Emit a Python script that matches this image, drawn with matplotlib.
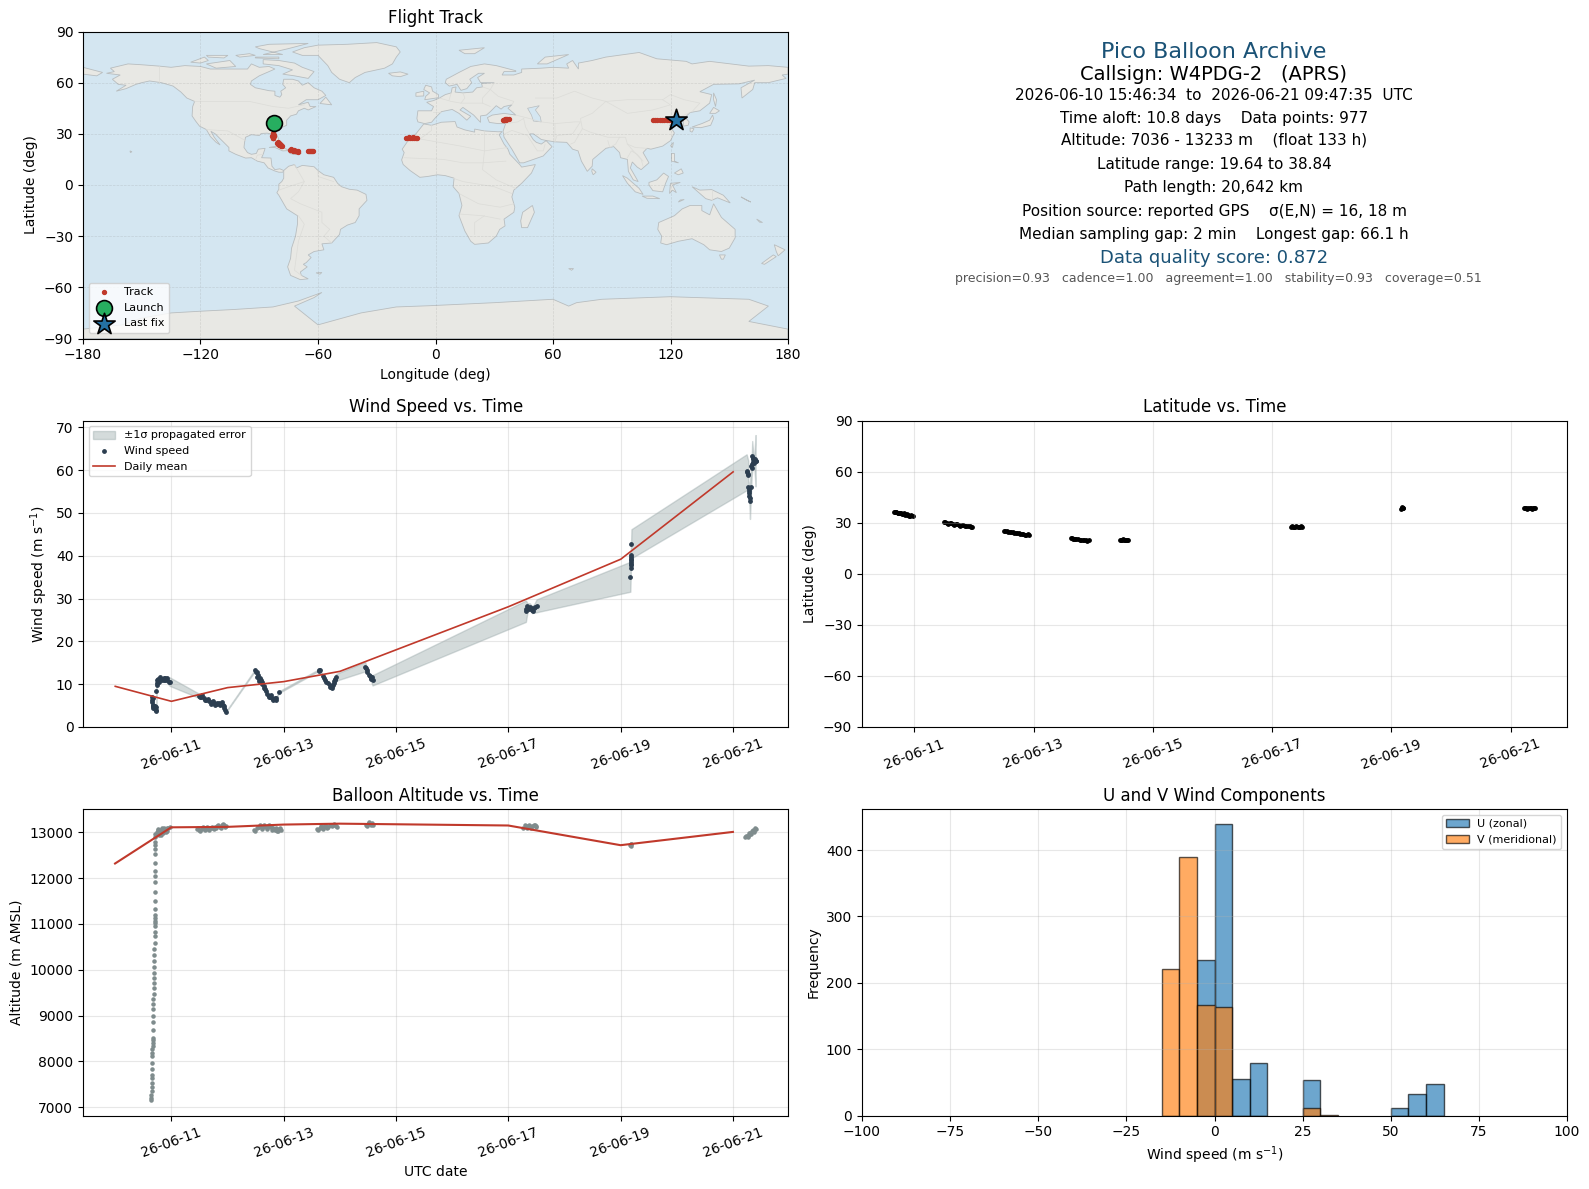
"""Pico Balloon Archive dashboard: track map, wind, latitude, altitude, U/V histogram."""
import numpy as np
import pandas as pd
import matplotlib
matplotlib.use("Agg")
import matplotlib.pyplot as plt
import matplotlib.dates as mdates
from matplotlib.patches import Polygon

W, H = 1589, 1189
BASE = pd.Timestamp("2026-06-10")

# ── coastlines (lon, lat) ──
north_america = [(-168,65.5),(-164,66.5),(-166,68.5),(-157,71),(-150,70.5),(-141,69.7),(-135,69),(-128,70),(-120,69.5),(-115,68),(-108,68),(-100,68),(-96,68),(-94,71),(-90,69),(-85,69.5),(-82,68),(-86,66),(-90,64),(-94,61),(-94.5,59),(-92,57),(-85,55.3),(-82,55),(-82,52.5),(-79.5,51.5),(-78.5,53),(-79,55),(-76.5,57),(-78,59),(-77.5,62),(-73,62),(-70,61),(-68,58.5),(-65,60),(-62,57),(-58,55),(-56,52.5),(-60,50),(-66,50),(-70,47),(-65,48.5),(-64,46),(-61,46),(-65,44),(-67,45),(-70,43.5),(-71,41.5),(-74,40.5),(-76,38),(-76,35),(-78,34),(-81,32),(-81.5,30),(-80,27),(-80.5,25.2),(-81.8,26),(-82.8,28),(-84,30),(-86,30.4),(-89,30.2),(-90,29),(-94,29.5),(-97,28),(-97.5,25),(-97.8,22),(-96,19),(-94,18),(-91.5,18.5),(-90.5,21),(-87,21.5),(-88,18),(-88.8,16),(-84,15.8),(-83.5,11),(-82,9),(-79.5,9.5),(-77.5,8.5),(-78,7.5),(-80,7.5),(-82,8.2),(-85.5,10),(-87.5,13),(-91,14),(-94,16),(-97,15.8),(-102,18),(-105.5,20),(-105.5,22),(-109,26),(-112.5,30),(-114.7,31.5),(-113,28),(-110,23.5),(-112,25),(-115,28.5),(-117,32.5),(-120.5,34.5),(-122.5,37.5),(-124.3,40.5),(-124,46),(-123,49),(-127,51),(-130,54.5),(-134,58),(-140,60),(-146,61),(-150,60),(-153,59),(-158,56.5),(-163,55),(-158,58.5),(-162,59),(-165,62),(-161,64.5)]
greenland = [(-73,78),(-68,76),(-60,76),(-55,70),(-53,66),(-49,62),(-44,60),(-41,63),(-36,66),(-26,68.5),(-22,71),(-20,75),(-18,78),(-20,81),(-30,83.5),(-45,82.5),(-60,82),(-67,80.5)]
south_america = [(-77.5,8.5),(-75,11),(-72,12),(-71,10),(-68,11.5),(-62,10.7),(-60,8.5),(-57,6),(-52,4.5),(-50,1),(-48,-1),(-44,-2.5),(-40,-3),(-35.5,-5.5),(-35,-9),(-39,-14),(-39,-18),(-41,-22),(-45,-23.5),(-48.5,-26),(-49,-29),(-53,-34),(-58,-34.5),(-57,-38),(-62,-39),(-65,-41),(-63.5,-42.5),(-66,-45.5),(-67.5,-46.5),(-65.5,-48),(-69,-51),(-68.5,-53),(-65,-55),(-69,-55.5),(-74,-53),(-75.5,-48),(-74,-43),(-73.5,-37),(-71.5,-30),(-70.5,-23),(-70.5,-18),(-76,-14),(-80,-6),(-81,-4.5),(-80,-2.5),(-80,0.5),(-78.5,2),(-77.5,4),(-77.5,7)]
africa = [(-6,35.8),(-2,35),(3,36.8),(10,37.2),(11,34),(15,32.3),(20,31),(20,32.8),(25,31.7),(32,31.2),(34,31.3),(32.5,29.5),(35,24),(37,21),(38,18),(43,12),(44,10.5),(51,12),(49,7),(44,1),(40,-3),(39,-7),(40.5,-13),(40,-16),(35,-20),(35.5,-24),(32.8,-26),(31,-30),(27,-34),(20,-34.8),(18,-33),(15,-27),(12,-18),(13.5,-12),(12,-5),(9,-1),(9.5,4),(5,5.5),(1,6),(-4,5),(-8,4.5),(-13,8.5),(-16.5,12),(-17.3,14.7),(-16,19),(-17,21),(-13,27.7),(-10,30)]
eurasia = [(-9,37),(-9.5,39),(-9,43.5),(-2,43.5),(-1,46),(-4.5,48.5),(-1,49.5),(2,51),(5,53),(8,54),(8.5,57),(10.5,57.5),(10,54.5),(14,54),(19,54.5),(21,57),(24,57.5),(23.5,59.5),(30,60),(23,60),(21.5,63),(25,65.5),(22,65.5),(17.5,62),(18.5,60),(16,56.5),(13,55.5),(11,59),(7,58),(5,60),(5.5,62),(12,66),(18,69.5),(25,71),(31,70),(41,67),(41,66.5),(35,66.5),(34,64.5),(40,64.5),(44,66),(44,68),(54,68.5),(60,69),(68,68.5),(67,71),(70,73),(73,68),(73,71.5),(80,73),(87,75),(104,77.7),(113,74),(128,72.5),(131,71),(140,72.5),(160,69.7),(170,70),(180,69),(180,65),(177,64.5),(179,62.5),(170,60),(163,60),(162,56),(156.5,51),(156,57),(163,61.5),(155,59.3),(142,59),(135,54.7),(141,53),(140,48),(135,43.5),(130,42.5),(127.5,39.7),(129.5,37),(129,35),(126.5,34.5),(126.5,37.5),(125,39.5),(121.5,39),(122,40.5),(118,39),(120,37.5),(122.5,37),(119.5,35),(122,30.5),(120,26),(116,22.8),(110,21),(108,21.5),(106,19),(109,13),(105,9),(103,10.5),(100.5,13.5),(99.5,10),(103.5,2),(101,3),(98.5,8),(98,15),(94.5,16),(94,19),(91,22.5),(87,21.5),(80.3,15),(80,11),(77.5,8),(74.5,14),(72.8,20),(70,21),(67,25),(61,25.3),(57,26),(54,26.7),(50,30),(48,30),(50,26.5),(51.5,25),(54,24),(56.5,26),(59.5,22.5),(55,17),(45,13),(43,13),(39,21),(35,28),(34.5,31.5),(35.8,36),(32,36),(27.5,36.7),(26.5,39.5),(29,41),(35,42),(41,41),(37,45),(39,47),(35,46),(33.5,44.5),(31,46.5),(28,43),(26,41),(23,40.5),(23,36.7),(19.5,41),(14,45.5),(12.5,44),(18,40.3),(16,38),(12,42),(8.5,44.3),(3,43),(0,39.5),(-2,36.8),(-5.5,36)]
australia = [(114,-22),(122,-18),(126,-14),(130,-12),(136,-12),(136,-15),(140,-17.5),(142,-11),(146,-19),(153,-26),(153,-31),(150,-37),(146,-39),(140,-38),(137,-35),(131,-31.5),(124,-33),(118,-35),(115,-34),(115.5,-30),(113.5,-26)]
antarctica = [(-180,-90),(-180,-84.5),(-160,-82),(-150,-78),(-135,-75),(-120,-74),(-103,-73),(-83,-71.5),(-70,-68),(-58,-63),(-62,-66),(-72,-71),(-60,-82),(-38,-75),(-20,-71.5),(-3.5,-70.8),(30,-69),(60,-67),(68,-71),(72,-69),(85,-67),(120,-65.5),(160,-67),(170,-71),(160,-80),(180,-84.5),(180,-90)]
islands = [
    [(-80,73),(-72,71.5),(-68,69),(-62,66.5),(-65,62.5),(-72,64),(-78,65),(-73,67.5),(-80,70),(-88,71),(-88,73.5)],
    [(-117,71),(-105,73),(-102,69.5),(-112,68.5)],
    [(-90,80),(-78,76.5),(-88,76.5),(-75,80),(-65,83),(-85,82.5),(-92,81)],
    [(-125,72),(-118,75),(-116,73),(-120,71.5)],
    [(-92,75),(-80,75),(-80,74),(-92,74.5)],
    [(-117,76),(-106,76),(-108,74.5),(-116,75)],
    [(-102,76),(-95,77),(-92,76),(-100,75)],
    [(-59,47.8),(-56,51.5),(-53,47)],
    [(-85,22),(-80,23),(-74.5,20.2),(-78,20),(-82,22)],
    [(-74.5,18.5),(-72,20),(-68.5,18.5),(-71.5,17.8)],
    [(-156,20),(-155,19.5),(-155.8,19)],
    [(-61,-51.5),(-58,-51.3),(-59,-52.3)],
    [(49.5,-12),(50.5,-16),(47,-25),(44,-25),(43.5,-21),(44.5,-16)],
    [(-5.5,50),(1.5,51.2),(1.5,53),(-1.5,55),(-2,57.5),(-5,58.5),(-6,56),(-3,54),(-5,52)],
    [(-10,52),(-6,52.2),(-6,55),(-10,54)],
    [(-24,65.5),(-18,66.3),(-14,65),(-18,63.5),(-22,64)],
    [(12,79),(25,80.5),(20,77),(15,77)],
    [(52,71),(57,71),(68,76.5),(56,75)],
    [(142,54),(143.5,50),(143,46),(142,50)],
    [(131,34),(136,36),(140,38),(141.5,41),(142,39),(140.5,35),(135.5,33.6)],
    [(140,42),(142,45.5),(145,43.5),(143,42)],
    [(130,33.5),(132,33),(131,31),(130,31.5)],
    [(120,23),(121.5,25),(121,22)],
    [(120.5,18.5),(122,18.5),(122,14),(124,13),(120.5,14)],
    [(122,7),(125.5,9.5),(126.5,7),(124,6)],
    [(109,1.5),(113,3),(116.5,7),(119,5),(117.5,1),(116,-4),(111,-3.3),(109,0)],
    [(95.5,5.5),(98,4),(104,-2),(106,-5.5),(102,-4),(98,1)],
    [(105.5,-6.5),(111,-6.5),(114.5,-8),(108,-7.8)],
    [(119.5,-5),(120,1),(125,1.5),(121,0),(123,-4.5),(121,-3)],
    [(131,-1),(135,-3),(141,-2.7),(147,-6),(150.5,-10.5),(144,-7.5),(141,-9),(138,-8),(134,-4)],
    [(80,9.5),(82,7.5),(80.5,6),(79.8,8)],
    [(124,-10),(127,-8.5),(125,-8.8)],
    [(145,-41),(148,-41),(147,-43.5),(146,-43.5)],
    [(173,-35),(178.5,-38),(175,-41.5),(174,-39)],
    [(172.5,-41),(174,-42),(168,-46.5),(166.5,-46)],
    [(164,-20),(167,-22),(165.5,-21.8)],
    [(156,-7),(161,-10),(159,-9)],
    [(-180,65),(-173,64),(-170,66),(-180,69)],
    [(68,-49),(70.5,-49),(69.5,-50)],
]
caspian = [(47,45),(53,46.5),(51,44),(53.5,40),(54,37),(50,37.5),(49,41)]
borders = [
    [(-123,49),(-95,49),(-83,46),(-75,45),(-67,47)],
    [(-141,69.7),(-141,60)],
    [(-117,32.5),(-106,31.7),(-97,26)],
    [(-92,14.5),(-91,17.5),(-88,18)],
    [(-72,12),(-67,2),(-70,-4),(-74,-8),(-69,-11),(-58,-16),(-58,-22),(-54,-26),(-57,-30),(-53,-34)],
    [(-60,8.5),(-60,5),(-52,2)],
    [(-80,-3),(-75,-1),(-67,2)],
    [(-70,-18),(-67,-23),(-70,-33),(-72,-50),(-68.5,-53)],
    [(-13,27.7),(-8,27),(12,23),(25,20),(37,22)],
    [(25,31.7),(25,20),(24,9),(31,3),(41,-2)],
    [(-2,35),(-2,32),(-8,27)],
    [(-16,16),(4,15),(14,13),(24,13),(36,14)],
    [(9,4),(14,2),(30,-1),(39,-5)],
    [(12,-5),(22,-11),(33,-13),(40,-11)],
    [(12,-17),(24,-18),(33,-20)],
    [(20,-29),(20,-22),(25,-18)],
    [(-1.5,43),(3,43)],
    [(2,51),(8,49),(13,48),(17,48),(24,48),(28,46)],
    [(8,54),(7,50)],
    [(14,54),(15,51),(13,48)],
    [(24,57.5),(28,56),(24,51),(24,48)],
    [(30,60),(28,56),(32,52),(40,49),(39,47)],
    [(41,41),(48,39),(54,37),(61,36),(61,25.3)],
    [(36,36),(42,37),(45,39)],
    [(48,30),(46,34),(45,39)],
    [(34.5,29.5),(39,32),(47,29),(52,20),(55,20),(56,24)],
    [(51,51),(62,51),(71,55),(80,51),(87,49)],
    [(87,49),(98,50),(107,50),(116,50),(120,53),(127,50),(135,48),(131,43)],
    [(87,49),(80,42),(74,39),(75,33),(79,31),(88,28),(97,28),(98,24),(102,22),(108,21.5)],
    [(61,36),(71,37),(74,37),(70,30),(62,29),(61,25.3)],
    [(75,33),(71,25),(69,24)],
    [(88,26),(89,22),(92,24),(94,28)],
    [(98,24),(101,20),(105,15),(106,11)],
    [(98,16),(100,20),(103,18),(106,14)],
    [(87,49),(98,42),(111,44),(120,47),(116,50)],
    [(125,40),(130,42.5)],
    [(141,-2.7),(141,-9)],
]

# ── track for the map (lon, lat) ──
track_lon = [-82.9,-83.2,-82.6,-83,-83.3,-82.7,-83.1,-83.2,-82.8,-83,-80.6,-81,-80.3,-79.9,-80.4,-79.5,-79.9,-79.1,-78.7,-79.2,-78.4,-74,-74.2,-73.2,-72.5,-72.8,-71.8,-71,-71.4,-70.4,-70.2,-65,-64.5,-63.8,-64.2,-63.1,-62.6,-15,-14,-13.5,-13,-12,-11.5,-11,-10,-9.5,34.3,34.8,35,35.4,35.8,36.2,36.6,37.3,111,112,113.2,114.4,115.6,116.8,118,119.2,120.4,121.5]
track_lat = [30.2,29.9,29.6,29.1,28.9,28.6,28.1,27.5,27.7,27.3,25.2,24.9,24.8,24.4,24.2,24,23.7,23.6,23.1,23.2,22.7,21,20.5,20.7,20.3,19.9,20,19.8,20.2,19.64,20.0,20.1,20,19.9,19.7,19.9,19.8,27.5,27.6,27.9,27.7,27.6,27.9,27.6,27.7,27.8,38.2,37.9,38.4,38.9,38.6,38.2,38.8,38.84,38.4,38.4,38.4,38.4,38.4,38.4,38.4,38.4,38.4,38.4]
launch_lon, launch_lat = -82.7, 36.4
last_lon, last_lat = 122.7, 38.4

# ── wind speed: days since 06-10 00:00, m/s, propagated sigma ──
wind_days = [0.66,0.66,0.66,0.67,0.67,0.68,0.70,0.72,0.73,0.73,0.735,0.74,0.76,0.78,0.80,0.83,0.86,0.88,0.90,0.93,0.97,
             1.49,1.53,1.58,1.62,1.67,1.72,1.76,1.81,1.85,1.91,1.94,1.97,
             2.49,2.52,2.54,2.565,2.59,2.61,2.655,2.685,2.73,2.76,2.79,2.82,2.86,2.91,
             3.625,3.64,3.70,3.73,3.76,3.815,3.857,3.89,3.91,3.93,
             4.45,4.48,4.52,4.55,4.58,
             7.31,7.34,7.38,7.42,7.46,7.50,
             9.17,9.18,9.18,9.18,9.18,9.19,
             11.24,11.27,11.27,11.28,11.29,11.30,11.33,11.34,11.36,11.38,11.40]
wind_speed = [7.1,6.4,5.8,5.2,4.8,4.5,4.3,4.0,3.7,8.5,9.7,10.2,10.6,11.0,11.2,11.3,11.5,11.4,11.1,10.9,10.6,
              7.3,7.1,6.75,6.4,6.1,5.8,5.6,5.7,5.6,5.2,4.4,3.5,
              13.3,12.8,12.2,11.2,10.9,10.6,9.5,8.3,7.3,7.0,6.7,6.5,6.4,8.1,
              13.3,13.4,11.8,11.0,10.6,9.8,9.1,10.2,11.0,11.6,
              14.1,13.3,12.2,11.4,10.9,
              27.05,27.9,28.1,27.4,27.7,28.3,
              35.1,37.75,38.5,39.3,40.1,42.8,
              59.5,59.2,56.1,55.2,54.0,52.9,60.5,63.3,62.6,62.0,62.2]
wind_sigma = [0.1,0.1,0.1,0.1,0.1,0.1,0.1,0.1,0.1,0.2,0.2,0.2,0.2,0.2,0.2,0.2,0.2,0.2,0.3,0.6,1.0,
              0.5,0.2,0.2,0.2,0.2,0.2,0.2,0.2,0.2,0.2,0.1,0.1,
              0.2,0.2,0.2,0.2,0.2,0.2,0.2,0.2,0.2,0.2,0.2,0.2,0.2,0.2,
              0.2,0.2,0.2,0.2,0.2,0.2,0.3,0.3,0.5,0.8,
              1.1,0.4,0.4,0.5,1.2,
              2.5,1.0,0.8,0.8,1.0,1.5,
              3.5,1.0,1.0,1.0,1.0,3.4,
              4.2,3.0,1.5,1.5,2.0,4.3,2.0,3.5,1.0,2.0,6.0]
# remaining wind points, they only thicken the clusters (no band of their own)
wind_more_days = [0.665,0.675,0.685,0.70,0.72,0.74,0.76,0.78,0.80,0.83,0.86,0.88,0.92,0.95,
                  1.50,1.55,1.60,1.65,1.70,1.74,1.78,1.82,1.86,1.90,1.93,1.96,
                  2.50,2.53,2.56,2.58,2.62,2.64,2.67,2.70,2.74,2.77,2.80,2.84,2.87,
                  3.63,3.72,3.78,3.82,3.84,3.86,3.88,3.90,3.92,
                  4.46,4.49,4.53,4.56,4.57,
                  7.32,7.33,7.36,7.40,7.44,7.48,
                  9.18,9.18,9.18,9.175,
                  11.25,11.26,11.28,11.29,11.30,11.31,11.32,11.34,11.345,11.36,11.37,11.39,11.41]
wind_more_speed = [6.8,5.0,4.9,4.8,4.6,11.0,11.1,10.5,11.7,10.9,11.0,11.0,11.4,10.5,
                   6.9,7.4,6.3,6.6,5.4,6.0,5.2,5.3,5.1,5.8,4.9,3.9,
                   12.9,11.7,10.7,11.5,10.0,9.0,8.8,7.8,6.9,7.4,6.3,6.8,6.7,
                   13.0,11.4,10.2,9.4,9.3,9.6,9.8,10.7,11.2,
                   13.7,12.8,11.8,11.1,11.6,
                   27.5,28.2,27.6,27.7,27.2,28.0,
                   38.0,38.9,39.7,37.2,
                   59.8,58.9,55.7,54.6,53.4,56.0,60.9,61.5,62.8,62.0,61.7,62.5,62.1]

# daily means are shared by the wind and altitude panels
mean_days = [0, 1, 2, 3, 4, 7, 9, 11]
wind_mean = [9.5, 6.0, 9.2, 10.6, 13.0, 28.1, 39.2, 59.6]
alt_mean = [12320, 13110, 13120, 13170, 13190, 13150, 12720, 13010]

# ── latitude ──
lat_days = [0.66,0.69,0.72,0.75,0.78,0.81,0.84,0.87,0.90,0.93,0.97,
            1.50,1.55,1.60,1.65,1.70,1.75,1.80,1.85,1.90,1.97,
            2.50,2.55,2.60,2.65,2.70,2.75,2.80,2.85,2.93,
            3.62,3.68,3.72,3.78,3.83,3.88,3.93,
            4.45,4.48,4.51,4.55,4.58,
            7.31,7.35,7.39,7.43,7.47,7.50,
            9.17,9.19,
            11.22,11.26,11.30,11.34,11.38,11.41,
            0.67,0.70,0.73,0.76,0.79,0.82,0.85,0.88,0.91,0.94,
            1.52,1.57,1.62,1.67,1.72,1.77,1.82,1.87,1.93,1.95,
            2.52,2.57,2.62,2.67,2.72,2.77,2.82,2.87,2.90,
            3.64,3.66,3.70,3.75,3.80,3.85,3.90,
            4.46,4.50,4.53,4.57,
            7.33,7.37,7.41,7.45,7.49,
            9.18,9.20,9.18,
            11.24,11.28,11.32,11.36,11.40]
lat_deg = [36.3,36.1,35.9,35.6,35.4,35.2,34.9,34.6,34.4,34.1,33.8,
           30.2,29.9,29.6,29.3,29.0,28.7,28.4,28.1,27.8,27.5,
           25.2,24.9,24.6,24.3,24.0,23.7,23.4,23.0,22.7,
           21.0,20.7,20.4,20.1,19.9,19.7,19.64,
           20.1,20.0,19.9,19.9,19.8,
           27.5,27.6,27.7,27.6,27.6,27.7,
           38.2,38.84,
           38.4,38.4,38.4,38.4,38.4,38.4,
           36.0,36.4,35.5,35.8,35.0,35.5,34.5,34.9,34.0,34.4,
           30.3,29.5,29.7,28.9,29.1,28.3,28.5,27.8,28.0,27.4,
           25.3,24.5,24.7,23.9,24.1,23.3,23.5,22.8,23.2,
           21.1,20.7,20.2,20.5,19.8,19.9,19.5,
           19.8,20.2,19.7,20.0,
           27.8,27.4,27.8,27.4,27.9,
           38.5,38.6,39.0,
           38.7,38.1,38.7,38.1,38.6]

# ── altitude ──
alt_days = [0.643,0.645,0.648,0.65,0.652,0.655,0.657,0.658,0.66,0.66,0.662,0.664,0.665,0.667,0.668,0.67,0.672,0.673,0.675,0.677,0.68,0.682,0.684,0.686,0.688,0.69,0.692,0.694,0.696,0.698,0.70,0.702,0.703,0.704,0.705,0.706,0.707,0.708,0.709,0.71,0.712,0.714,0.715,0.716,0.717,0.718,0.719,0.72,0.72,0.72,0.72,0.72,
            0.72,0.74,0.76,0.78,0.80,0.82,0.84,0.86,0.88,0.90,0.92,0.94,0.97,
            1.46,1.50,1.54,1.58,1.62,1.66,1.70,1.74,1.78,1.82,1.86,1.90,1.94,1.97,
            2.48,2.52,2.56,2.60,2.64,2.68,2.72,2.76,2.80,2.84,2.88,2.92,2.95,
            3.60,3.64,3.68,3.72,3.76,3.80,3.84,3.88,3.92,3.95,
            4.47,4.50,4.53,4.56,4.59,
            7.27,7.31,7.35,7.39,7.43,7.47,7.50,
            9.17,9.19,
            11.22,11.25,11.28,11.31,11.34,11.37,11.41,
            0.74,0.76,0.78,0.80,0.82,0.84,0.86,0.88,0.90,0.93,
            1.48,1.52,1.56,1.60,1.64,1.68,1.72,1.76,1.80,1.84,1.88,1.92,1.96,
            2.50,2.54,2.58,2.62,2.66,2.70,2.74,2.78,2.82,2.86,2.90,2.94,
            3.62,3.66,3.70,3.74,3.78,3.82,3.86,3.90,3.94,
            4.48,4.52,4.55,4.58,
            7.29,7.33,7.37,7.41,7.45,7.49,
            9.18,9.18,
            11.23,11.26,11.29,11.32,11.35,11.38,11.40]
altitude = [7155,7200,7273,7346,7440,7528,7637,7709,7833,7964,8109,8182,8269,8342,8400,8458,8509,8683,8857,8996,9141,9250,9366,9475,9599,9708,9817,9941,10057,10188,10318,10456,10580,10733,10834,10965,11031,11074,11125,11198,11321,11496,11692,11910,12048,12164,12324,12528,12629,12724,12797,12905,
            12960,13010,13050,13020,13000,13010,13030,13050,13060,13080,13090,13095,13110,
            13070,13060,13080,13090,13075,13090,13100,13095,13120,13130,13120,13170,13160,13130,
            13060,13090,13120,13140,13110,13120,13140,13110,13060,13050,13040,13070,13060,
            13070,13100,13110,13120,13130,13120,13150,13170,13160,13110,
            13160,13190,13200,13190,13170,
            13100,13130,13140,13110,13130,13150,13140,
            12720,12750,
            12900,12930,12950,12990,13020,13040,13080,
            12960,13080,12950,13060,12940,13090,12990,13100,13000,13040,
            13100,13040,13110,13050,13110,13060,13120,13070,13100,13150,13090,13190,13110,
            13040,13110,13150,13070,13150,13080,13160,13140,13100,13100,13030,13090,
            13060,13130,13080,13150,13100,13170,13130,13190,13140,
            13140,13220,13160,13210,
            13160,13100,13170,13100,13170,13110,
            12740,12700,
            12930,12900,12990,12970,13060,13010,13090]

# ── histogram counts on 5 m/s bins, left edge of each bar ──
hist_edges = [-15, -10, -5, 0, 5, 10, 25, 30, 50, 55, 60]
u_counts = [0, 0, 235, 440, 55, 79, 53, 0, 12, 33, 47]
v_counts = [221, 390, 166, 163, 0, 0, 12, 1, 0, 0, 0]

# ── summary text ──
summary_lines = [
    "Pico Balloon Archive",
    "Callsign: W4PDG-2   (APRS)",
    "2026-06-10 15:46:34  to  2026-06-21 09:47:35  UTC",
    "Time aloft: 10.8 days    Data points: 977",
    "Altitude: 7036 - 13233 m    (float 133 h)",
    "Latitude range: 19.64 to 38.84",
    "Path length: 20,642 km",
    "Position source: reported GPS    σ(E,N) = 16, 18 m",
    "Median sampling gap: 2 min    Longest gap: 66.1 h",
    "Data quality score: 0.872",
    "precision=0.93   cadence=1.00   agreement=1.00   stability=0.93   coverage=0.51",
]

OCEAN = "#d4e6f1"
LAND = "#e8e8e4"
COAST = "#b8bdbf"
RED = "#c0392b"


def to_time(days):
    return BASE + pd.to_timedelta(np.asarray(days, dtype=float), unit="D")


def axes_px(x0, x1, y0, y1):
    return fig.add_axes([x0 / W, 1 - y1 / H, (x1 - x0) / W, (y1 - y0) / H])


def date_axis(ax):
    ax.xaxis.set_major_locator(mdates.DayLocator(bymonthday=[11, 13, 15, 17, 19, 21]))
    ax.xaxis.set_major_formatter(mdates.DateFormatter("%y-%m-%d"))
    ax.tick_params(axis="x", labelrotation=20)
    ax.grid(True, alpha=0.3)


fig = plt.figure(figsize=(W / 100, H / 100), dpi=100)

# ── map ──
ax = axes_px(83, 788, 31.5, 338.5)
ax.set_facecolor(OCEAN)
for poly in [north_america, greenland, south_america, africa, eurasia, australia, antarctica] + islands:
    ax.add_patch(Polygon(poly, closed=True, fc=LAND, ec=COAST, lw=0.6, zorder=1))
ax.add_patch(Polygon(caspian, closed=True, fc=OCEAN, ec=COAST, lw=0.5, zorder=1.1))
for line in borders:
    xs, ys = zip(*line)
    ax.plot(xs, ys, color="#dcdcd8", lw=0.5, zorder=1.2)
ax.grid(True, color="#808080", alpha=0.22, lw=0.5, ls="--", zorder=1.5)
ax.scatter(track_lon, track_lat, s=8, color=RED, zorder=3, label="Track")
ax.scatter(launch_lon, launch_lat, s=130, color="#27ae60", edgecolor="black", lw=1.2, zorder=5, label="Launch")
ax.scatter(last_lon, last_lat, s=260, marker="*", color="#2471a3", edgecolor="black", lw=1.2, zorder=5, label="Last fix")
ax.set_xlim(-180, 180)
ax.set_ylim(-90, 90)
ax.set_xticks(np.arange(-180, 181, 60))
ax.set_yticks(np.arange(-90, 91, 30))
ax.set_xlabel("Longitude (deg)")
ax.set_ylabel("Latitude (deg)")
ax.set_title("Flight Track")
ax.legend(loc="lower left", fontsize=8)

# ── summary: one size, colour and pixel row for each line ──
line_sizes = [16, 14, 11, 11, 11, 11, 11, 11, 11, 13, 9]
line_colors = ["#1a5276", "black", "black", "black", "black", "black", "black", "black", "black", "#1a5276", "#555555"]
line_rows = [51.5, 74, 94, 116.5, 138.5, 162, 185, 208.5, 231, 254.5, 275]
line_x = [1214] * 10 + [1218]
for text, size, color, row, x in zip(summary_lines, line_sizes, line_colors, line_rows, line_x):
    fig.text(x / W, 1 - row * 1.0134 / H, text, fontsize=size, color=color, ha="center", va="center")

# ── wind speed ──
ax = axes_px(83.2, 788.2, 420.5, 727)
wind_v = np.array(wind_speed)
wind_s = np.array(wind_sigma)
ax.fill_between(to_time(wind_days), wind_v - wind_s, wind_v + wind_s, color="#95a5a6", alpha=0.4, label="±1σ propagated error")
ax.scatter(to_time(wind_days), wind_v, s=6, color="#2c3e50", zorder=3, label="Wind speed")
ax.scatter(to_time(wind_more_days), wind_more_speed, s=6, color="#2c3e50", zorder=3)
ax.plot(to_time(mean_days), wind_mean, color=RED, lw=1.2, zorder=4, label="Daily mean")
ax.set_ylim(0, 71.6)
ax.set_ylabel("Wind speed (m s$^{-1}$)")
ax.set_title("Wind Speed vs. Time")
date_axis(ax)
ax.legend(loc="upper left", fontsize=8)

# ── latitude ──
ax = axes_px(862, 1567, 420.5, 727)
ax.scatter(to_time(lat_days), lat_deg, s=6, color="black")
ax.set_ylim(-90, 90)
ax.set_yticks(np.arange(-90, 91, 30))
ax.set_ylabel("Latitude (deg)")
ax.set_title("Latitude vs. Time")
date_axis(ax)

# ── altitude ──
ax = axes_px(83, 788, 809, 1115.5)
ax.scatter(to_time(alt_days), altitude, s=5, color="#7f8c8d", zorder=3)
ax.plot(to_time(mean_days), alt_mean, color=RED, lw=1.5, zorder=4)
ax.set_ylim(6820, 13510)
ax.set_xlabel("UTC date")
ax.set_ylabel("Altitude (m AMSL)")
ax.set_title("Balloon Altitude vs. Time")
date_axis(ax)

# ── U / V histogram ──
ax = axes_px(862, 1567, 809, 1115.5)
ax.bar(hist_edges, u_counts, width=5, align="edge", color="#1f77b4", edgecolor="black", alpha=0.65, label="U (zonal)")
ax.bar(hist_edges, v_counts, width=5, align="edge", color="#ff7f0e", edgecolor="black", alpha=0.65, label="V (meridional)")
ax.set_xlim(-100, 100)
ax.set_ylim(0, 462)
ax.set_xlabel("Wind speed (m s$^{-1}$)")
ax.set_ylabel("Frequency")
ax.set_title("U and V Wind Components")
ax.grid(True, alpha=0.3)
ax.legend(loc="upper right", fontsize=8)

fig.savefig("out.png", dpi=100)
